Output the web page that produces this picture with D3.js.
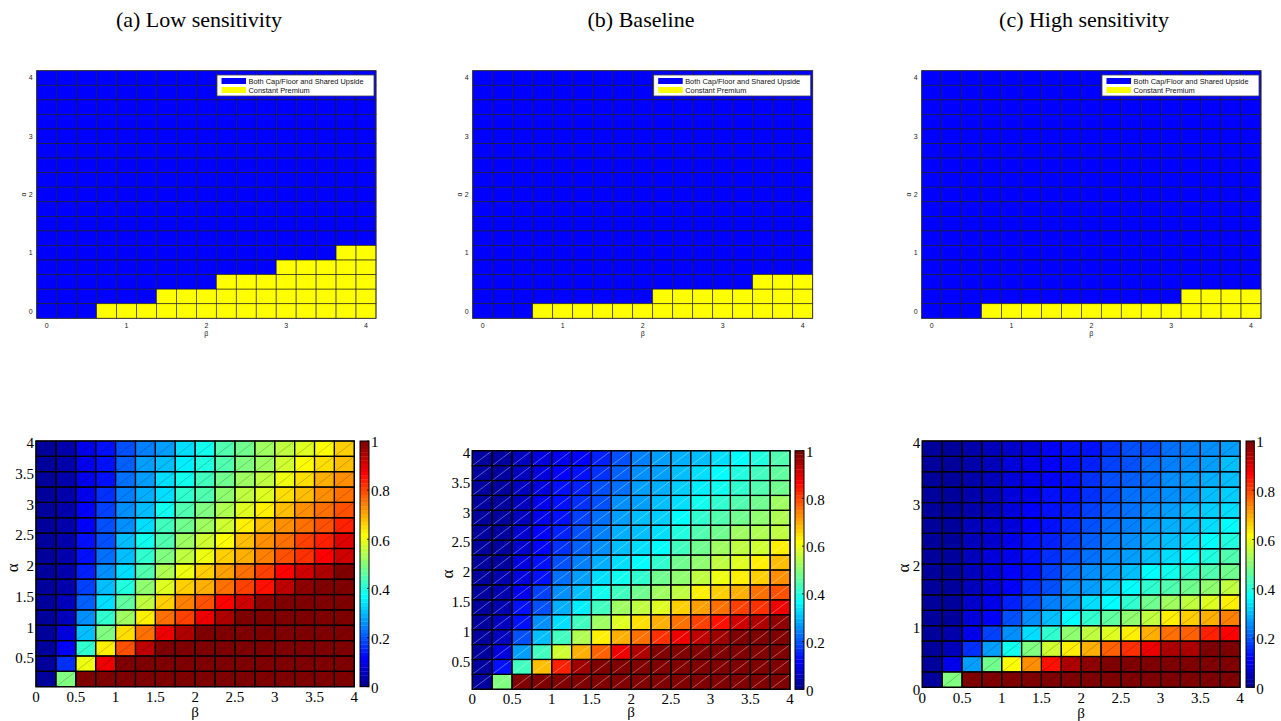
<!DOCTYPE html>
<html><head><meta charset="utf-8">
<script src="https://cdn.jsdelivr.net/npm/d3@7"></script>
<style>body{margin:0;background:#fff}svg{display:block}</style>
</head><body><svg id="chart" width="1281" height="721"></svg>
<script>
// ---------------- DATA ----------------
const panelTitles = ["(a) Low sensitivity", "(b) Baseline", "(c) High sensitivity"];
const legendLabels = ["Both Cap/Floor and Shared Upside", "Constant Premium"];
const regimeColors = ["#0000ff", "#ffff00"];

// top maps: grid points (cell centres) for β (columns) and α (rows)
const gridBeta = [0,0.25,0.5,0.75,1,1.25,1.5,1.75,2,2.25,2.5,2.75,3,3.25,3.5,3.75,4];
const gridAlphaDesc = [4,3.75,3.5,3.25,3,2.75,2.5,2.25,2,1.75,1.5,1.25,1,0.75,0.5,0.25,0];
const topTicks = [0,1,2,3,4];
// 0 = Both Cap/Floor and Shared Upside, 1 = Constant Premium ; rows α=4 (top) ... α=0 (bottom)
const regimeLow = [
"00000000000000000","00000000000000000","00000000000000000","00000000000000000",
"00000000000000000","00000000000000000","00000000000000000","00000000000000000",
"00000000000000000","00000000000000000","00000000000000000","00000000000000000",
"00000000000000011","00000000000011111","00000000011111111","00000011111111111",
"00011111111111111"];
const regimeBase = [
"00000000000000000","00000000000000000","00000000000000000","00000000000000000",
"00000000000000000","00000000000000000","00000000000000000","00000000000000000",
"00000000000000000","00000000000000000","00000000000000000","00000000000000000",
"00000000000000000","00000000000000000","00000000000000111","00000000011111111",
"00011111111111111"];
const regimeHigh = [
"00000000000000000","00000000000000000","00000000000000000","00000000000000000",
"00000000000000000","00000000000000000","00000000000000000","00000000000000000",
"00000000000000000","00000000000000000","00000000000000000","00000000000000000",
"00000000000000000","00000000000000000","00000000000000000","00000000000001111",
"00011111111111111"];

// bottom heat maps: bin lower edges
const binBeta = [0,0.25,0.5,0.75,1,1.25,1.5,1.75,2,2.25,2.5,2.75,3,3.25,3.5,3.75];
const binAlphaDesc = [3.75,3.5,3.25,3,2.75,2.5,2.25,2,1.75,1.5,1.25,1,0.75,0.5,0.25,0];
const heatXTicks = [0,0.5,1,1.5,2,2.5,3,3.5,4];
const heatXTickLabels = ["0","0.5","1","1.5","2","2.5","3","3.5","4"];
const heatYTicksAB = [0.5,1,1.5,2,2.5,3,3.5,4];
const heatYTickLabelsAB = ["0.5","1","1.5","2","2.5","3","3.5","4"];
const heatYTicksC = [0,1,2,3,4];
const heatYTickLabelsC = ["0","1","2","3","4"];
const cbTicks = [0,0.2,0.4,0.6,0.8,1];
const cbTickLabels = ["0","0.2","0.4","0.6","0.8","1"];

// rows from α bin 3.75 (top) down to α bin 0 (bottom)
const valuesLow = [
[0.02,0.04,0.10,0.14,0.20,0.24,0.28,0.34,0.38,0.44,0.48,0.52,0.56,0.59,0.62,0.66],
[0.02,0.04,0.10,0.13,0.21,0.28,0.31,0.35,0.40,0.45,0.49,0.53,0.57,0.62,0.65,0.68],
[0.02,0.04,0.10,0.14,0.22,0.28,0.33,0.38,0.43,0.47,0.52,0.55,0.60,0.65,0.69,0.72],
[0.02,0.04,0.10,0.16,0.24,0.29,0.34,0.42,0.45,0.50,0.55,0.59,0.65,0.68,0.72,0.76],
[0.02,0.04,0.11,0.18,0.25,0.31,0.38,0.44,0.49,0.54,0.59,0.63,0.68,0.72,0.75,0.79],
[0.02,0.04,0.12,0.20,0.26,0.34,0.43,0.48,0.53,0.57,0.63,0.68,0.72,0.75,0.79,0.83],
[0.02,0.04,0.13,0.20,0.30,0.38,0.45,0.52,0.57,0.62,0.68,0.72,0.76,0.80,0.84,0.90],
[0.02,0.04,0.14,0.22,0.31,0.42,0.49,0.55,0.60,0.66,0.70,0.74,0.79,0.82,0.86,0.92],
[0.02,0.04,0.15,0.25,0.34,0.45,0.54,0.60,0.66,0.71,0.75,0.80,0.87,0.92,0.94,0.99],
[0.02,0.04,0.18,0.30,0.40,0.50,0.59,0.66,0.70,0.75,0.80,0.85,0.93,0.98,0.99,0.99],
[0.02,0.05,0.21,0.34,0.46,0.56,0.66,0.74,0.79,0.86,0.92,0.98,1,1,1,1],
[0.02,0.06,0.25,0.42,0.53,0.64,0.75,0.81,0.89,0.95,1,1,1,1,1,1],
[0.02,0.08,0.31,0.49,0.65,0.76,0.875,0.95,1,1,1,1,1,1,1,1],
[0.02,0.11,0.42,0.625,0.79,0.93,1,1,1,1,1,1,1,1,1,1],
[0.02,0.17,0.60,0.875,1,1,1,1,1,1,1,1,1,1,1,1],
[0.02,0.49,1,1,1,1,1,1,1,1,1,1,1,1,1,1]];

const valuesBase = [
[0.02,0.03,0.05,0.08,0.10,0.12,0.15,0.19,0.24,0.27,0.29,0.31,0.34,0.37,0.40,0.44],
[0.02,0.03,0.05,0.09,0.12,0.14,0.17,0.21,0.25,0.28,0.30,0.34,0.37,0.40,0.43,0.46],
[0.02,0.03,0.06,0.09,0.125,0.15,0.19,0.23,0.27,0.29,0.32,0.35,0.39,0.42,0.45,0.48],
[0.02,0.03,0.06,0.10,0.13,0.16,0.20,0.25,0.28,0.30,0.34,0.38,0.42,0.44,0.48,0.52],
[0.02,0.03,0.06,0.10,0.14,0.18,0.22,0.27,0.30,0.32,0.37,0.42,0.44,0.48,0.50,0.54],
[0.02,0.03,0.07,0.11,0.15,0.20,0.24,0.29,0.31,0.34,0.40,0.45,0.48,0.52,0.54,0.56],
[0.02,0.03,0.07,0.12,0.17,0.21,0.26,0.31,0.33,0.37,0.43,0.48,0.52,0.55,0.57,0.625],
[0.02,0.03,0.08,0.13,0.20,0.24,0.29,0.34,0.37,0.42,0.47,0.50,0.55,0.59,0.625,0.68],
[0.02,0.04,0.09,0.14,0.22,0.28,0.33,0.38,0.42,0.47,0.50,0.55,0.60,0.64,0.67,0.72],
[0.02,0.04,0.10,0.18,0.25,0.31,0.38,0.43,0.47,0.52,0.56,0.64,0.67,0.70,0.75,0.79],
[0.02,0.04,0.125,0.20,0.29,0.35,0.43,0.52,0.55,0.59,0.67,0.71,0.76,0.80,0.82,0.875],
[0.02,0.05,0.14,0.25,0.34,0.43,0.52,0.59,0.65,0.70,0.76,0.80,0.85,0.92,0.95,0.97],
[0.02,0.06,0.19,0.31,0.43,0.54,0.625,0.70,0.76,0.82,0.89,0.93,0.96,0.99,0.99,1],
[0.02,0.09,0.27,0.43,0.57,0.69,0.77,0.875,0.94,0.99,1,1,1,1,1,1],
[0.02,0.13,0.43,0.68,0.84,0.96,0.99,1,1,1,1,1,1,1,1,1],
[0.02,0.49,1,1,1,1,1,1,1,1,1,1,1,1,1,1]];

const valuesHigh = [
[0.02,0.03,0.04,0.05,0.07,0.09,0.11,0.125,0.13,0.16,0.19,0.20,0.22,0.24,0.25,0.28],
[0.02,0.03,0.04,0.06,0.08,0.10,0.12,0.13,0.15,0.18,0.20,0.22,0.24,0.26,0.28,0.30],
[0.02,0.03,0.04,0.06,0.08,0.10,0.12,0.13,0.16,0.19,0.21,0.23,0.25,0.27,0.29,0.31],
[0.02,0.03,0.04,0.06,0.08,0.10,0.125,0.14,0.17,0.20,0.22,0.24,0.26,0.28,0.30,0.32],
[0.02,0.03,0.04,0.06,0.09,0.11,0.13,0.15,0.18,0.21,0.23,0.25,0.28,0.30,0.32,0.34],
[0.02,0.03,0.05,0.07,0.09,0.12,0.14,0.16,0.20,0.22,0.24,0.27,0.29,0.31,0.34,0.37],
[0.02,0.03,0.05,0.07,0.10,0.125,0.15,0.18,0.21,0.24,0.26,0.29,0.31,0.33,0.36,0.40],
[0.02,0.03,0.05,0.08,0.10,0.13,0.16,0.19,0.23,0.26,0.28,0.31,0.34,0.37,0.40,0.44],
[0.02,0.03,0.06,0.08,0.11,0.14,0.18,0.22,0.25,0.28,0.31,0.36,0.39,0.42,0.45,0.48],
[0.02,0.03,0.06,0.09,0.12,0.16,0.20,0.25,0.28,0.32,0.36,0.41,0.44,0.48,0.51,0.56],
[0.02,0.03,0.07,0.10,0.15,0.20,0.24,0.28,0.33,0.37,0.42,0.47,0.52,0.55,0.58,0.63],
[0.02,0.03,0.08,0.12,0.19,0.25,0.31,0.37,0.42,0.46,0.50,0.55,0.625,0.66,0.70,0.74],
[0.02,0.04,0.10,0.18,0.26,0.34,0.41,0.50,0.55,0.59,0.64,0.70,0.75,0.78,0.83,0.87],
[0.02,0.05,0.16,0.27,0.38,0.49,0.57,0.64,0.70,0.77,0.82,0.89,0.94,0.95,0.99,0.99],
[0.02,0.10,0.27,0.47,0.62,0.72,0.85,0.95,0.98,1,1,1,1,1,1,1],
[0.02,0.49,1,1,1,1,1,1,1,1,1,1,1,1,1,1]];

// ---------------- RENDER ----------------
const svg = d3.select("#chart");
const SERIF = "'Liberation Serif','Times New Roman',serif";
const SANS = "'Liberation Sans',Arial,sans-serif";

function jet(t){
  const c = v => Math.max(0, Math.min(1, v));
  return d3.rgb(255*c(1.5-Math.abs(4*t-3)), 255*c(1.5-Math.abs(4*t-2)), 255*c(1.5-Math.abs(4*t-1)));
}
const NLEV = 64;
function jetQ(v){ const i = Math.min(NLEV-1, Math.max(0, Math.floor(v*NLEV))); return jet((i+1)/NLEV); }

// titles
const titleX = [199, 641, 1084];
panelTitles.forEach((t,i)=>{
  svg.append("text").attr("x",titleX[i]).attr("y",27).attr("text-anchor","middle")
    .attr("font-family",SERIF).attr("font-size",22).text(t);
});

// ---------- top panels ----------
const topLayout = [{l:36.7,r:376},{l:472.7,r:812.7},{l:921.7,r:1261}];
const topT = 70.7, topB = 318.3;
const regimes = [regimeLow, regimeBase, regimeHigh];

topLayout.forEach((L,pi)=>{
  const g = svg.append("g");
  const xb = d3.scaleBand().domain(gridBeta).range([L.l,L.r]).padding(0);
  const yb = d3.scaleBand().domain(gridAlphaDesc).range([topT,topB]).padding(0);
  const xl = d3.scaleLinear().domain([-0.125,4.125]).range([L.l,L.r]);
  const yl = d3.scaleLinear().domain([-0.125,4.125]).range([topB,topT]);
  const cells = [];
  regimes[pi].forEach((row,ri)=>{
    row.split("").forEach((ch,ci)=>cells.push({a:gridAlphaDesc[ri], b:gridBeta[ci], k:+ch}));
  });
  g.selectAll("rect.c").data(cells).join("rect")
    .attr("x",d=>xb(d.b)).attr("y",d=>yb(d.a))
    .attr("width",xb.bandwidth()).attr("height",yb.bandwidth())
    .attr("fill",d=>regimeColors[d.k])
    .attr("stroke","#1a1a1a").attr("stroke-width",0.7).attr("stroke-opacity",0.85);
  g.append("rect").attr("x",L.l).attr("y",topT).attr("width",L.r-L.l).attr("height",topB-topT)
    .attr("fill","none").attr("stroke","#333").attr("stroke-width",0.8);
  // ticks
  g.selectAll("text.xt").data(topTicks).join("text")
    .attr("x",d=>xl(d)).attr("y",topB+9.5).attr("text-anchor","middle")
    .attr("font-family",SANS).attr("font-size",7).attr("fill","#222").text(d=>d);
  g.selectAll("text.yt").data(topTicks).join("text")
    .attr("x",L.l-4).attr("y",d=>yl(d)+2.5).attr("text-anchor","end")
    .attr("font-family",SANS).attr("font-size",7).attr("fill","#222").text(d=>d);
  g.append("text").attr("x",(L.l+L.r)/2).attr("y",topB+17.5).attr("text-anchor","middle")
    .attr("font-family",SANS).attr("font-size",7).attr("fill","#222").text("β");
  g.append("text").attr("transform",`translate(${L.l-13},${yl(2)}) rotate(-90)`)
    .attr("text-anchor","middle").attr("dy","0.35em")
    .attr("font-family",SANS).attr("font-size",7).attr("fill","#222").text("α");
  // legend
  const lw = 157, lh = 21, lx = L.r - 2 - lw, ly = 75;
  const lg = g.append("g");
  lg.append("rect").attr("x",lx).attr("y",ly).attr("width",lw).attr("height",lh)
    .attr("fill","#fff").attr("stroke","#444").attr("stroke-width",0.8);
  legendLabels.forEach((lab,i)=>{
    const cy = ly + 6 + i*9;
    lg.append("rect").attr("x",lx+4.5).attr("y",cy-3).attr("width",24.5).attr("height",6)
      .attr("fill",regimeColors[i]);
    lg.append("text").attr("x",lx+31.5).attr("y",cy+2.6)
      .attr("font-family",SANS).attr("font-size",7.4).attr("fill","#111").text(lab);
  });
});

// ---------- bottom panels ----------
const botLayout = [
  {l:36,r:354.3,t:441,b:686.7,c0:360,c1:369, yt:heatYTicksAB, ytl:heatYTickLabelsAB, diag:"rgba(0,0,0,0.28)", ax:12, xo:10, bo:25},
  {l:472.3,r:790,t:450.7,b:689.3,c0:795,c1:804, yt:heatYTicksAB, ytl:heatYTickLabelsAB, diag:"rgba(255,255,255,0.5)", ax:447, xo:9.5, bo:22},
  {l:922.3,r:1240,t:441,b:687.3,c0:1246,c1:1254.3, yt:heatYTicksC, ytl:heatYTickLabelsC, diag:"rgba(0,0,0,0.28)", ax:903, xo:10, bo:25}
];
const heatData = [valuesLow, valuesBase, valuesHigh];

botLayout.forEach((L,pi)=>{
  const g = svg.append("g");
  const xb = d3.scaleBand().domain(binBeta).range([L.l,L.r]).padding(0);
  const yb = d3.scaleBand().domain(binAlphaDesc).range([L.t,L.b]).padding(0);
  const xl = d3.scaleLinear().domain([0,4]).range([L.l,L.r]);
  const yl = d3.scaleLinear().domain([0,4]).range([L.b,L.t]);
  const cells = [];
  heatData[pi].forEach((row,ri)=>row.forEach((v,ci)=>cells.push({a:binAlphaDesc[ri], b:binBeta[ci], v})));
  g.selectAll("rect.h").data(cells).join("rect")
    .attr("x",d=>xb(d.b)).attr("y",d=>yb(d.a))
    .attr("width",xb.bandwidth()).attr("height",yb.bandwidth())
    .attr("fill",d=>jetQ(d.v));
  g.selectAll("line.dg").data(cells).join("line")
    .attr("x1",d=>xb(d.b)).attr("y1",d=>yb(d.a)+yb.bandwidth())
    .attr("x2",d=>xb(d.b)+xb.bandwidth()).attr("y2",d=>yb(d.a))
    .attr("stroke",L.diag).attr("stroke-width",0.7);
  g.selectAll("rect.hb").data(cells).join("rect")
    .attr("x",d=>xb(d.b)).attr("y",d=>yb(d.a))
    .attr("width",xb.bandwidth()).attr("height",yb.bandwidth())
    .attr("fill","none").attr("stroke","#000").attr("stroke-width",1.2);
  g.append("rect").attr("x",L.l).attr("y",L.t).attr("width",L.r-L.l).attr("height",L.b-L.t)
    .attr("fill","none").attr("stroke","#000").attr("stroke-width",1.2);
  // axes labels
  g.selectAll("text.xt").data(heatXTicks).join("text")
    .attr("x",d=>xl(d)).attr("y",L.b+L.xo).attr("dy","0.35em").attr("text-anchor","middle")
    .attr("font-family",SERIF).attr("font-size",15).text((d,i)=>heatXTickLabels[i]);
  g.selectAll("text.yt").data(L.yt).join("text")
    .attr("x",L.l-2).attr("y",d=>yl(d)+2).attr("dy","0.35em").attr("text-anchor","end")
    .attr("font-family",SERIF).attr("font-size",15).text((d,i)=>L.ytl[i]);
  g.append("text").attr("x",(L.l+L.r)/2).attr("y",L.b+L.bo).attr("dy","0.35em").attr("text-anchor","middle")
    .attr("font-family",SERIF).attr("font-size",15).text("β");
  g.append("text").attr("transform",`translate(${L.ax},${yl(2)+4}) rotate(-90)`)
    .attr("text-anchor","middle").attr("dy","0.35em")
    .attr("font-family",SERIF).attr("font-size",17).text("α");
  // colorbar
  const cy = d3.scaleLinear().domain([0,1]).range([L.b,L.t]);
  const levels = d3.range(NLEV);
  g.selectAll("rect.cb").data(levels).join("rect")
    .attr("x",L.c0).attr("width",L.c1-L.c0)
    .attr("y",d=>cy((d+1)/NLEV)).attr("height",d=>cy(d/NLEV)-cy((d+1)/NLEV)+0.3)
    .attr("fill",d=>jet((d+1)/NLEV));
  g.append("rect").attr("x",L.c0).attr("y",L.t).attr("width",L.c1-L.c0).attr("height",L.b-L.t)
    .attr("fill","none").attr("stroke","#000").attr("stroke-width",1);
  g.selectAll("line.cbt").data(cbTicks).join("line")
    .attr("x1",L.c1-2).attr("x2",L.c1).attr("y1",d=>cy(d)).attr("y2",d=>cy(d))
    .attr("stroke","#000").attr("stroke-width",0.8);
  g.selectAll("text.cbl").data(cbTicks).join("text")
    .attr("x",L.c1+2).attr("y",d=>cy(d)+1).attr("dy","0.35em")
    .attr("font-family",SERIF).attr("font-size",15).text((d,i)=>cbTickLabels[i]);
});
</script></body></html>
